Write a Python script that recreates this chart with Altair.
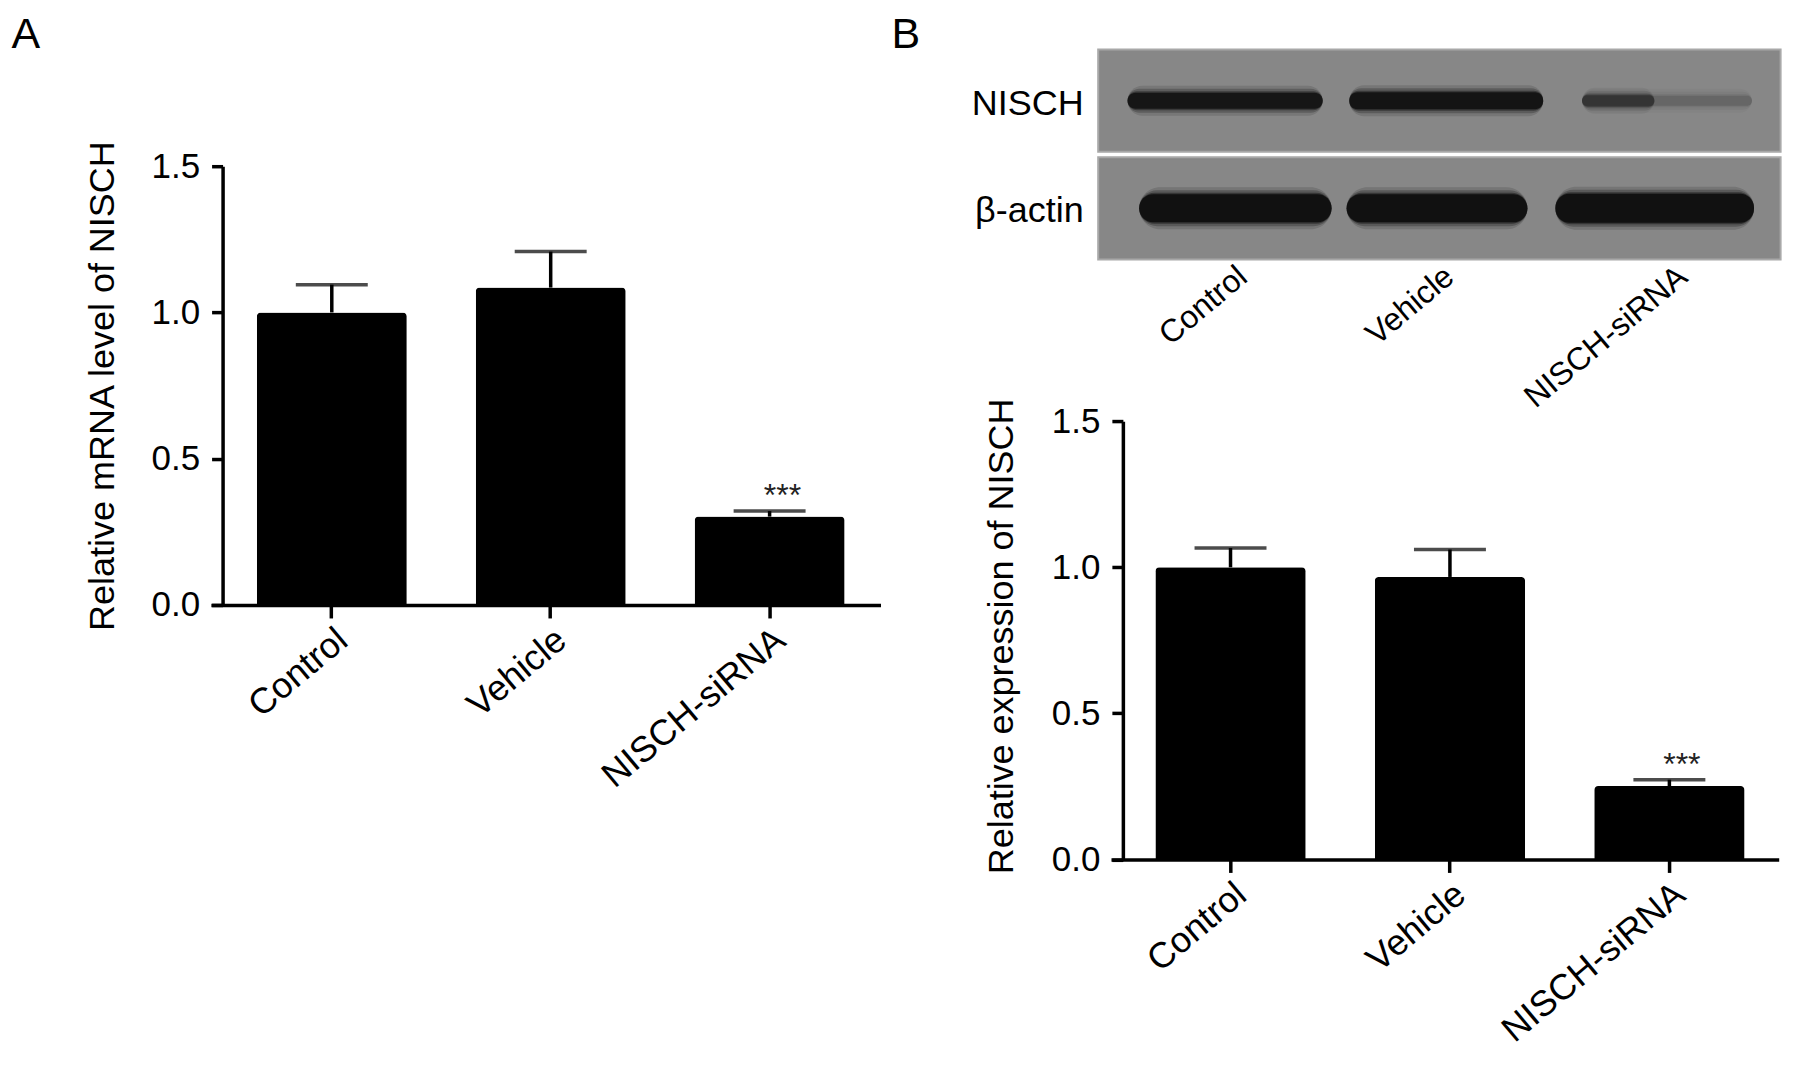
import altair as alt
import pandas as pd

# ---------------- data ----------------
groups = ["Control", "Vehicle", "NISCH-siRNA"]
mrna_mean = [1.00, 1.085, 0.302]
mrna_err = [0.095, 0.123, 0.019]
prot_mean = [1.00, 0.967, 0.251]
prot_err = [0.066, 0.094, 0.022]
sig_marks = ["", "", "***"]
y_ticks = [0.0, 0.5, 1.0, 1.5]

# western blot (positions as fraction of blot width, density 0-1, band thickness px)
blot_rows = ["NISCH", "β-actin"]
lane_pos = [0.197, 0.50, 0.842]
band_row = ["NISCH", "NISCH", "NISCH", "NISCH", "β-actin", "β-actin", "β-actin"]
band_start = [0.043, 0.368, 0.709, 0.709, 0.060, 0.364, 0.670]
band_end = [0.329, 0.652, 0.958, 0.815, 0.342, 0.629, 0.961]
band_dens = [0.90, 0.92, 0.16, 0.38, 1.0, 1.0, 1.0]
band_thick = [16, 17, 10, 12, 28, 28, 29]

FONT = "Liberation Sans"
W, H = 1780, 1050


def bar_layers(mean, err, title, xr, pad_outer, align, y_axis_x, yr, title_x, title_y):
    df = pd.DataFrame({
        "group": groups,
        "mean": mean,
        "upper": [m + e for m, e in zip(mean, err)],
        "sig": sig_marks,
    })
    xscale = alt.Scale(range=xr, paddingInner=0.315, paddingOuter=pad_outer, align=align)
    yscale = alt.Scale(domain=[0, 1.5], range=yr, nice=False, zero=True)
    xaxis = alt.Axis(orient="bottom", offset=yr[0] - H, title=None, labelAngle=-40,
                     labelAlign="right", labelBaseline="top", labelFontSize=36,
                     labelPadding=4, labelLimit=500, tickSize=13, tickWidth=3.5,
                     domainWidth=3.5, domainColor="black", tickColor="black")
    yaxis = alt.Axis(orient="left", offset=-y_axis_x, values=y_ticks, format=".1f",
                     title=title, titleX=title_x, titleY=title_y, titleAngle=270,
                     titleAlign="center", titleBaseline="middle", titleFontSize=36,
                     titleLimit=1000, labelFontSize=35, labelPadding=12, tickSize=11,
                     tickWidth=3.5, domainWidth=3.5, domainColor="black", tickColor="black")
    base = alt.Chart(df)
    x_plain = alt.X("group:N", sort=groups, scale=xscale, axis=None)
    bars = base.mark_bar(color="black", cornerRadiusTopLeft=4, cornerRadiusTopRight=4).encode(
        x=alt.X("group:N", sort=groups, scale=xscale, axis=xaxis),
        y=alt.Y("mean:Q", scale=yscale, axis=yaxis))
    whisk = base.mark_rule(color="black", strokeWidth=3.5).encode(
        x=x_plain, y=alt.Y("mean:Q", scale=yscale, axis=None), y2="upper:Q")
    caps = base.mark_tick(color="black", orient="horizontal", size=72, thickness=3.5).encode(
        x=x_plain, y=alt.Y("upper:Q", scale=yscale, axis=None))
    stars = base.mark_text(color="#222222", fontSize=32, font=FONT, baseline="alphabetic", dy=-5).encode(
        x=x_plain, y=alt.Y("upper:Q", scale=yscale, axis=None), text="sig:N")
    return [bars, whisk, caps, stars]


layersA = bar_layers(mrna_mean, mrna_err, "Relative mRNA level of NISCH",
                     [203, 873], 0.187, 0.561, 214.7, [597, 158], -120.5, 377.5)
layersB = bar_layers(prot_mean, prot_err, "Relative expression of NISCH",
                     [1103.6, 1771.7], 0.179, 0.565, 1115.5, [851.6, 413.2], -121.5, 628)

# ---------------- blot ----------------
bg_df = pd.DataFrame({"row": blot_rows, "s": [0.0, 0.0], "e": [1.0, 1.0]})
band_df = pd.DataFrame({"row": band_row, "s": band_start, "e": band_end,
                        "dens": band_dens, "th": band_thick})

bx = alt.Scale(domain=[0, 1], range=[1090.8, 1773.6], nice=False, zero=False)
by = alt.Scale(domain=blot_rows, range=[41.3, 251.3], paddingInner=0.05, paddingOuter=0)

lane_expr = " : ".join(
    [f"datum.value < {(lane_pos[i] + lane_pos[i + 1]) / 2:.3f} ? '{groups[i]}'" for i in range(len(groups) - 1)]
) + f" : '{groups[-1]}'"

bg = alt.Chart(bg_df).mark_rect(color="#878787", stroke="#a8a8a8", strokeWidth=2).encode(
    x=alt.X("s:Q", scale=bx, axis=alt.Axis(orient="bottom", offset=251.3 - H, values=lane_pos,
                                            labelExpr=lane_expr, domain=False, ticks=False,
                                            labelAngle=-40, labelAlign="right", labelBaseline="top",
                                            labelFontSize=32, labelPadding=1, labelLimit=500, title=None)),
    x2="e:Q",
    y=alt.Y("row:N", sort=blot_rows, scale=by,
            axis=alt.Axis(orient="left", offset=-1090.8, domain=False, ticks=False,
                          labelFontSize=36, labelPadding=15, labelOffset=3, labelLimit=500, title=None)),
)

band_base = alt.Chart(band_df)
halo_layers = []
# soft edges: several nested pills of growing size and falling opacity
for row, base_rad in [("NISCH", 8), ("β-actin", 14)]:
    for extra, frac in [(14, 0.14), (8, 0.26), (3, 0.45), (0, 0.85)]:
        halo_layers.append(
            band_base.transform_filter(
                alt.datum.row == row
            ).transform_calculate(
                op=f"datum.dens * {frac}", sz=f"datum.th + {extra}"
            ).mark_bar(color="#0a0a0a", cornerRadius=base_rad + extra / 2).encode(
                x=alt.X("s:Q", scale=bx, axis=None),
                x2="e:Q",
                y=alt.Y("row:N", sort=blot_rows, scale=by, axis=None),
                size=alt.Size("sz:Q", scale=None),
                opacity=alt.Opacity("op:Q", scale=None),
            )
        )

# ---------------- panel letters ----------------
dummy = pd.DataFrame({"k": [0]})
letA = alt.Chart(dummy).mark_text(text="A", fontSize=43, font=FONT, align="left",
                                  baseline="alphabetic", color="black").encode(
    x=alt.value(3.5), y=alt.value(39.5))
letB = alt.Chart(dummy).mark_text(text="B", fontSize=43, font=FONT, align="left",
                                  baseline="alphabetic", color="black").encode(
    x=alt.value(884), y=alt.value(39.5))

chart = alt.layer(*layersA, *layersB, bg, *halo_layers, letA, letB).resolve_scale(
    x="independent", y="independent"
).resolve_axis(
    x="independent", y="independent"
).properties(
    width=W, height=H,
    autosize=alt.AutoSizeParams(type="none"),
    padding={"left": 0, "top": 0, "right": 0, "bottom": 0},
).configure_axis(
    grid=False, labelFont=FONT, titleFont=FONT, labelColor="black", titleColor="black",
    titleFontWeight="normal",
).configure_view(strokeWidth=0)

chart.save("out.html", embed_options={"renderer": "svg", "actions": False})
